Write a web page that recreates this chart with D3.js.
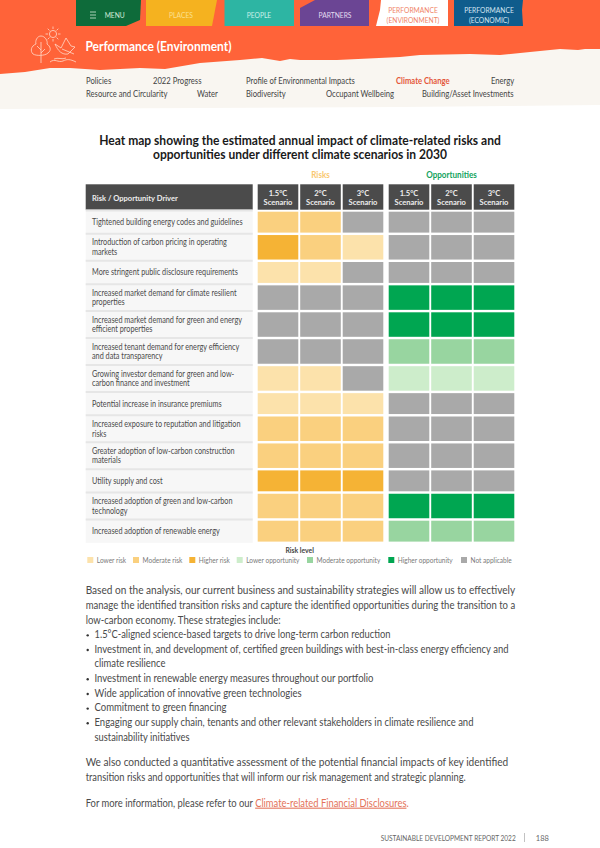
<!DOCTYPE html>
<html>
<head>
<meta charset="utf-8">
<script src="https://cdn.jsdelivr.net/npm/d3@7"></script>
<style>
  html, body { margin: 0; padding: 0; background: #fff; }
  svg { display: block; }
  text { font-family: Lato, "Noto Sans", sans-serif; }
</style>
</head>
<body>
<svg id="page" width="600" height="848"></svg>
<script>
// chart data
var scenarios = ['1.5°C', '2°C', '3°C'];
var drivers = [
  ['Tightened building energy codes and guidelines'],
  ['Introduction of carbon pricing in operating', 'markets'],
  ['More stringent public disclosure  requirements'],
  ['Increased market demand for climate resilient', 'properties'],
  ['Increased market demand for green and energy', 'efficient properties'],
  ['Increased tenant demand for energy efficiency', 'and data transparency'],
  ['Growing investor demand for green and low-', 'carbon finance and investment'],
  ['Potential increase in insurance premiums'],
  ['Increased exposure to reputation and litigation', 'risks'],
  ['Greater adoption of low-carbon construction', 'materials'],
  ['Utility supply and cost'],
  ['Increased adoption of green and low-carbon', 'technology'],
  ['Increased adoption of renewable energy']
];
var riskLevels = [
  ['mod', 'mod', 'na'], ['high', 'mod', 'low'], ['low', 'low', 'na'],
  ['na', 'na', 'na'], ['na', 'na', 'na'], ['na', 'na', 'na'],
  ['low', 'low', 'na'], ['low', 'low', 'low'], ['mod', 'mod', 'mod'],
  ['mod', 'mod', 'mod'], ['high', 'high', 'high'], ['mod', 'mod', 'mod'],
  ['mod', 'mod', 'mod']
];
var opportunityLevels = [
  ['na', 'na', 'na'], ['na', 'na', 'na'], ['na', 'na', 'na'],
  ['ohigh', 'ohigh', 'ohigh'], ['ohigh', 'ohigh', 'ohigh'], ['omod', 'omod', 'omod'],
  ['olow', 'olow', 'olow'], ['na', 'na', 'na'], ['na', 'na', 'na'],
  ['na', 'na', 'na'], ['na', 'na', 'na'], ['ohigh', 'ohigh', 'ohigh'],
  ['omod', 'omod', 'omod']
];
var levelKeys = ['low', 'mod', 'high', 'olow', 'omod', 'ohigh', 'na'];
var levelNames = ['Lower risk', 'Moderate risk', 'Higher risk', 'Lower opportunity', 'Moderate opportunity', 'Higher opportunity', 'Not applicable'];
var levelColors = ['#FCE2AB', '#FAD07F', '#F5B335', '#CDEDCB', '#98D5A0', '#00A651', '#A9A9A9'];

// page text
var tabs = ['MENU', 'PLACES', 'PEOPLE', 'PARTNERS', 'PERFORMANCE|(ENVIRONMENT)', 'PERFORMANCE|(ECONOMIC)'];
var navItems = [
  ['Policies', 86, 0], ['2022 Progress', 153, 0], ['Profile of Environmental Impacts', 246, 0], ['Climate Change', 396, 0], ['Energy', 491, 0],
  ['Resource and Circularity', 86, 1], ['Water', 197, 1], ['Biodiversity', 246, 1], ['Occupant Wellbeing', 326, 1], ['Building/Asset Investments', 422, 1]
];
var bodyLines = [
  {t: 'Based on the analysis, our current business and sustainability strategies will allow us to effectively', w: 429.5},
  {t: 'manage the identified transition risks and capture the identified opportunities during the transition to a', w: 429.5},
  {t: 'low-carbon economy. These strategies include:', w: 195},
  {t: '1.5°C-aligned science-based targets to drive long-term carbon reduction', w: 296, b: 1},
  {t: 'Investment in, and development of, certified green buildings with best-in-class energy efficiency and', w: 414, b: 1},
  {t: 'climate resilience', w: 71, i: 1},
  {t: 'Investment in renewable energy measures throughout our portfolio', w: 279, b: 1},
  {t: 'Wide application of innovative green technologies', w: 207, b: 1},
  {t: 'Commitment to green financing', w: 132, b: 1},
  {t: 'Engaging our supply chain, tenants and other relevant stakeholders in climate resilience and', w: 379, b: 1},
  {t: 'sustainability initiatives', w: 95, i: 1},
  {t: 'We also conducted a quantitative assessment of the potential financial impacts of key identified', w: 422.5, gap: 11},
  {t: 'transition risks and opportunities that will inform our risk management and strategic planning.', w: 380},
  {t: 'For more information, please refer to our ', w: 323, gap: 11, link: 'Climate-related Financial Disclosures'}
];

var svg = d3.select('#page');
var bodyColor = '#4a4a4a';

//the report font is narrower than anything installed, so narrow the text to its measured width
function squeeze(sel, f) {
  sel.each(function() {
    d3.select(this)
      .attr('textLength', this.getComputedTextLength() * f)
      .attr('lengthAdjust', 'spacingAndGlyphs');
  });
  return sel;
}

// header band, torn edge
var line = d3.line();
svg.append('path').attr('fill', '#F9F6F1')
  .attr('d', line([[0, 60], [600, 40], [600, 105], [400, 107], [200, 108], [0, 109]]) + 'Z');
svg.append('path').attr('fill', '#FF6339')
  .attr('d', line([[0, 0], [600, 0], [600, 49], [585, 49], [578, 50], [560, 49], [530, 52], [500, 55], [470, 54], [420, 55], [400, 57],
    [337, 60], [300, 60], [290, 59], [280, 61], [262, 58], [240, 60], [200, 63], [165, 69], [140, 68], [100, 70], [70, 68], [50, 68], [25, 72], [0, 74]]) + 'Z');

// tabs
var tabShapes = [
  [[76, 0], [141, 0], [140, 20], [126, 26], [76, 26]],
  [[146, 0], [217, 0], [212, 26], [146, 26]],
  [[224.5, 0], [294, 0], [294, 26], [224.5, 26]],
  [[300, 8], [315, 0], [369, 0], [369, 26], [300, 26]],
  [[381, 0], [448, 0], [448, 26], [376, 26], [380, 10]],
  [[454, 0], [523, 0], [522, 10], [523, 26], [454, 26]]
];
var tabFill = ['#0E6B3A', '#F5B21F', '#2DB5A3', '#6B4594', '#FFFFFF', '#0F5C8C'];
var tabInk = ['#d5ebd9', '#fbe08f', '#c9f0e8', '#e5dcf0', '#F08468', '#d5e6f2'];
var tabCx = [114.7, 181, 259, 335, 413, 489];
tabs.forEach(function(t, i) {
  svg.append('path').attr('fill', tabFill[i]).attr('d', line(tabShapes[i]) + 'Z');
});
tabs.forEach(function(t, i) {
  var parts = t.split('|');
  parts.forEach(function(p, j) {
    squeeze(svg.append('text').text(p)
      .attr('x', tabCx[i])
      .attr('y', parts.length == 1 ? 18 : 12.5 + j * 10)
      .attr('text-anchor', 'middle')
      .attr('font-size', 8.4)
      .attr('fill', tabInk[i]), 0.8);
  });
});
// menu icon
[0, 1, 2].forEach(function(i) {
  svg.append('line').attr('x1', 90).attr('x2', 96).attr('y1', 12 + i * 3).attr('y2', 12 + i * 3)
    .attr('stroke', '#d5ebd9').attr('stroke-width', 0.8);
});

// section icon
var icon = svg.append('g').attr('fill', 'none').attr('stroke', '#FFD9C9').attr('stroke-width', 0.8);
icon.append('circle').attr('cx', 53).attr('cy', 34).attr('r', 3.6);
d3.range(8).forEach(function(i) {
  var a = i * Math.PI / 4;
  icon.append('line')
    .attr('x1', 53 + 5 * Math.cos(a)).attr('y1', 34 + 5 * Math.sin(a))
    .attr('x2', 53 + 7.5 * Math.cos(a)).attr('y2', 34 + 7.5 * Math.sin(a));
});
icon.append('path').attr('d', 'M41,36C37,36 35,41 36,44C31,46 30,51 33,54C36,56 45,56 48,53C52,50 50,46 47,44C48,41 45,36 41,36Z');
icon.append('path').attr('d', 'M41,42V63M41,50L37,46M41,53L45,49');
icon.append('path').attr('d', 'M55,44L61,48L66,38L71,46L75,47L71,51L68,54C62,55 58,51 55,44ZM62,49L74,54');
icon.append('path').attr('d', 'M50,62C55,58 58,63 63,61C67,59 70,59 76,62M54,59C58,57 62,60 66,58');

squeeze(svg.append('text').text('Performance (Environment)')
  .attr('x', 85.5).attr('y', 51).attr('font-size', 12.6).attr('font-weight', 700).attr('fill', '#fff'), 0.95);

// second level navigation
squeeze(svg.selectAll('.nav').data(navItems).enter().append('text')
  .attr('class', 'nav')
  .attr('x', function(d) { return d[1]; })
  .attr('y', function(d) { return 83.5 + d[2] * 13.4; })
  .attr('font-size', 8.5)
  .attr('font-weight', function(d) { return d[0] == 'Climate Change' ? 700 : 400; })
  .attr('fill', function(d) { return d[0] == 'Climate Change' ? '#E4573A' : '#444'; })
  .text(function(d) { return d[0]; }), 0.9);

// chart title
['Heat map showing the estimated annual impact of climate-related risks and',
 'opportunities under different climate scenarios in 2030'].forEach(function(t, i) {
  squeeze(svg.append('text').text(t)
    .attr('x', 300).attr('y', 144.5 + i * 14.6)
    .attr('text-anchor', 'middle')
    .attr('font-size', 12.8).attr('font-weight', 700).attr('fill', '#1a1a1a'), 0.94);
});

// scales
var xRisk = d3.scaleBand().domain(scenarios).range([257.7, 383.3]).paddingInner(0.045);
var xOpp = d3.scaleBand().domain(scenarios).range([388.7, 514.3]).paddingInner(0.045);
var color = d3.scaleOrdinal().domain(levelKeys).range(levelColors);

// rows are taller when the driver label wraps
var rowGap = 2.45;
var rowHeight = drivers.map(function(d) { return d.length > 1 ? 24.5 : 20.9; });
var rowTop = [211.7];
rowHeight.forEach(function(h, i) { rowTop.push(rowTop[i] + h + rowGap); });

// group headings
squeeze(svg.append('text').text('Risks').attr('x', 320.5).attr('y', 178).attr('text-anchor', 'middle')
  .attr('font-size', 8.8).attr('font-weight', 700).attr('fill', '#F9C870'), 0.92);
squeeze(svg.append('text').text('Opportunities').attr('x', 451.5).attr('y', 178).attr('text-anchor', 'middle')
  .attr('font-size', 8.8).attr('font-weight', 700).attr('fill', '#12A35D'), 0.92);

// header row
svg.append('rect').attr('x', 85.7).attr('y', 184.3).attr('width', 167).attr('height', 25.4).attr('fill', '#4B4B4B');
squeeze(svg.append('text').text('Risk / Opportunity Driver').attr('x', 92).attr('y', 201)
  .attr('font-size', 8.3).attr('font-weight', 700).attr('fill', '#eee'), 0.91);
[xRisk, xOpp].forEach(function(x) {
  var head = svg.append('g').selectAll('g').data(scenarios).enter().append('g')
    .attr('transform', function(d) { return 'translate(' + x(d) + ',184.3)'; });
  head.append('rect').attr('width', x.bandwidth()).attr('height', 25.4).attr('fill', '#4B4B4B');
  squeeze(head.append('text').text(function(d) { return d; })
    .attr('x', x.bandwidth() / 2).attr('y', 12).attr('text-anchor', 'middle')
    .attr('font-size', 8.3).attr('font-weight', 700).attr('fill', '#eee'), 0.91);
  squeeze(head.append('text').text('Scenario')
    .attr('x', x.bandwidth() / 2).attr('y', 21.2).attr('text-anchor', 'middle')
    .attr('font-size', 8.3).attr('font-weight', 700).attr('fill', '#eee'), 0.91);
});

// driver labels
var rows = svg.append('g').selectAll('g').data(drivers).enter().append('g')
  .attr('transform', function(d, i) { return 'translate(85.7,' + rowTop[i] + ')'; });
rows.append('rect')
  .attr('width', 167)
  .attr('y', -rowGap / 2)
  .attr('height', function(d, i) { return rowHeight[i] + rowGap; })
  .attr('fill', '#F7F7F7');
rows.append('line').attr('x2', 167).attr('y1', -rowGap / 2).attr('y2', -rowGap / 2)
  .attr('stroke', '#E6E6E6').attr('stroke-width', 2);
rows.each(function(d, i) {
  var g = d3.select(this);
  d.forEach(function(t, j) {
    squeeze(g.append('text').text(t)
      .attr('x', 6.3)
      .attr('y', rowHeight[i] / 2 + 3 + (j - (d.length - 1) / 2) * 9.6)
      .attr('font-size', 8.6)
      .attr('fill', '#4a4a4a'), 0.845);
  });
});

// heat map cells
function drawCells(levels, x) {
  levels.forEach(function(row, i) {
    svg.append('g').selectAll('rect').data(row).enter().append('rect')
      .attr('x', function(d, j) { return x(scenarios[j]); })
      .attr('y', rowTop[i])
      .attr('width', x.bandwidth())
      .attr('height', rowHeight[i])
      .attr('fill', function(d) { return color(d); });
  });
}
drawCells(riskLevels, xRisk);
drawCells(opportunityLevels, xOpp);

// legend
squeeze(svg.append('text').text('Risk level').attr('x', 299.7).attr('y', 553)
  .attr('text-anchor', 'middle').attr('font-size', 7.6).attr('font-weight', 700).attr('fill', '#444'), 0.9);
var legendX = [87.3, 133, 189.3, 236.7, 307, 388.3, 461];
var legend = svg.append('g').selectAll('g').data(levelKeys).enter().append('g')
  .attr('transform', function(d, i) { return 'translate(' + legendX[i] + ',557)'; });
legend.append('rect').attr('width', 6).attr('height', 6).attr('fill', function(d) { return color(d); });
squeeze(legend.append('text').text(function(d, i) { return levelNames[i]; })
  .attr('x', 9.5).attr('y', 5.8).attr('font-size', 7.7).attr('fill', '#7a7a7a'), 0.85);

// body copy
var bodyY = 594.2;
bodyLines.forEach(function(d) {
  bodyY += d.gap || 0;
  var x = 85.7;
  if (d.b) {
    svg.append('circle').attr('cx', 87.7).attr('cy', bodyY - 2.8).attr('r', 1.2).attr('fill', '#333');
  }
  if (d.b || d.i) x = 94.5;
  var txt = svg.append('text')
    .attr('x', x).attr('y', bodyY)
    .attr('font-size', 10.8)
    .attr('textLength', d.w)
    .attr('lengthAdjust', 'spacingAndGlyphs')
    .attr('fill', bodyColor);
  txt.append('tspan').text(d.t);
  //the link stays in the same text element as the sentence it ends
  if (d.link) {
    txt.append('tspan').text(d.link)
      .attr('text-decoration', 'underline')
      .attr('fill', '#E4735A');
    txt.append('tspan').text('.').attr('fill', '#E4735A');
  }
  bodyY += 14.65;
});

// footer
svg.append('text').text('SUSTAINABLE DEVELOPMENT REPORT 2022').attr('x', 380.7).attr('y', 840.5)
  .attr('font-size', 7).attr('textLength', 135).attr('lengthAdjust', 'spacingAndGlyphs').attr('fill', '#666');
svg.append('line').attr('x1', 524.5).attr('x2', 524.5).attr('y1', 833).attr('y2', 842).attr('stroke', '#999').attr('stroke-width', 0.6);
svg.append('text').text('188').attr('x', 535.8).attr('y', 840.5).attr('font-size', 7.5).attr('fill', '#666');
</script>
</body>
</html>
